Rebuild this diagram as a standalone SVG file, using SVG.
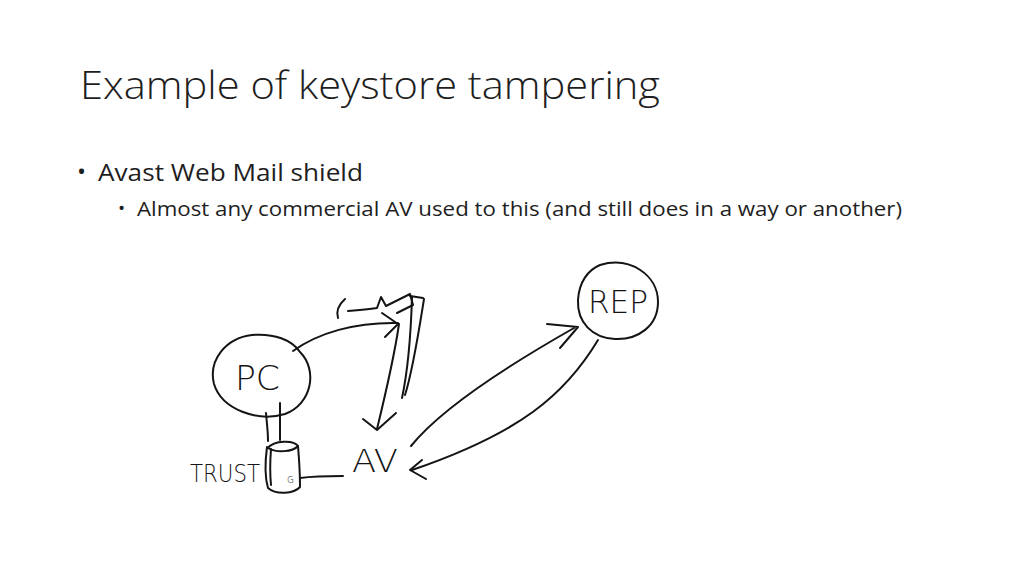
<svg xmlns="http://www.w3.org/2000/svg" width="1024" height="576" viewBox="0 0 1024 576">
<style>
.ttl{font-family:"Open Sans","Liberation Sans",sans-serif;font-weight:300;fill:#1e1e1e}
.txt{font-family:"Open Sans","Liberation Sans",sans-serif;fill:#1e1e1e}
.ink{fill:none;stroke:#141414;stroke-width:2;stroke-linecap:round;stroke-linejoin:round}
.hand{font-family:"DejaVu Sans","Liberation Sans",sans-serif;font-weight:200;fill:#141414}
</style>
<rect width="1024" height="576" fill="#ffffff"/>
<g id="title">
<text class="ttl" x="80" y="99" font-size="39" textLength="580" lengthAdjust="spacingAndGlyphs">Example of keystore tampering</text>
</g>
<g id="bullets">
<text class="txt" x="77" y="180" font-size="24">•</text>
<text class="txt" x="98" y="181" font-size="24" textLength="265" lengthAdjust="spacingAndGlyphs">Avast Web Mail shield</text>
<text class="txt" x="118" y="215" font-size="19">•</text>
<text class="txt" x="137" y="216" font-size="20" textLength="765" lengthAdjust="spacingAndGlyphs">Almost any commercial AV used to this (and still does in a way or another)</text>
</g>
<g id="node-pc">
<path class="ink" d="M300,352 C318,370 312,404 285,414 C258,422 222,410 214,384 C208,360 226,338 252,335 C274,333 292,340 300,352"/>
<text class="hand" x="235" y="390" font-size="34" textLength="45" lengthAdjust="spacingAndGlyphs">PC</text>
</g>
<g id="node-trust">
<path class="ink" d="M266,413 C267,425 268,432 268,441"/>
<path class="ink" d="M280,403 C280,418 280,430 280,440"/>
<path class="ink" d="M268,448 C274,440 294,440 298,446 C293,452 276,453 268,448"/>
<path class="ink" d="M267,447 C265,462 265,478 268,488 C276,495 294,494 300,487"/>
<path class="ink" d="M271,449 C270,462 270,475 271,485"/>
<path class="ink" d="M298,446 C299,458 300,470 300,486"/>
<text class="hand" x="287" y="483" font-size="9">G</text>
<text class="hand" x="190" y="482" font-size="24" textLength="70" lengthAdjust="spacingAndGlyphs">TRUST</text>
</g>
<g id="node-av">
<text class="hand" x="352" y="472" font-size="32" textLength="46" lengthAdjust="spacingAndGlyphs">AV</text>
</g>
<g id="node-rep">
<path class="ink" d="M600,265 C630,256 658,275 658,302 C658,326 638,340 615,339 C592,338 577,322 578,300 C579,282 588,270 600,265"/>
<text class="hand" x="588" y="313" font-size="32" textLength="60" lengthAdjust="spacingAndGlyphs">REP</text>
</g>
<g id="connectors">
<path class="ink" d="M293,351 C318,333 355,322 398,323"/>
<path class="ink" d="M382,313 L398,324 L385,337"/>
<path class="ink" d="M345,299 Q335,308 338,318"/>
<path class="ink" d="M348,311 C360,310 370,309 377,308 L381,297 L386,306 L410,294 L413,305 L397,313"/>
<path class="ink" d="M410,296 L423,298"/>
<path class="ink" d="M412,297 C411,330 408,370 402,398"/>
<path class="ink" d="M424,299 C419,330 413,370 405,395"/>
<path class="ink" d="M399,324 C395,352 386,392 377,429"/>
<path class="ink" d="M363,419 L377,430 L396,413"/>
<path class="ink" d="M300,478 C315,476 330,476 343,476"/>
<path class="ink" d="M411,446 C440,410 500,370 574,328"/>
<path class="ink" d="M547,324 L578,327 L560,348"/>
<path class="ink" d="M598,340 C565,395 520,433 412,470"/>
<path class="ink" d="M422,460 L410,470 L426,479"/>
</g>
</svg>
